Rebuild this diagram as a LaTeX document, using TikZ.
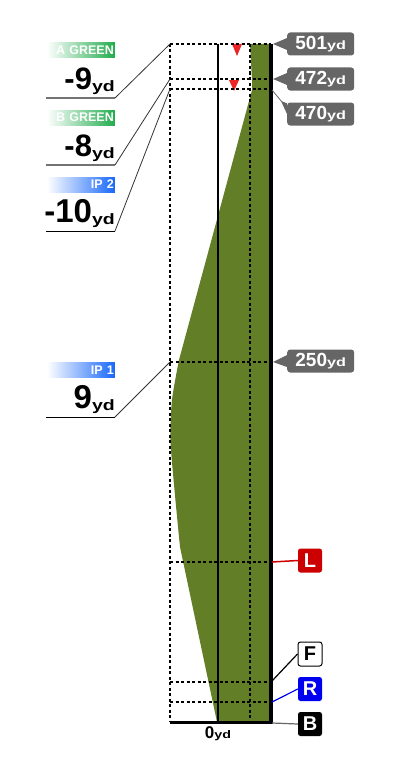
\documentclass[tikz,border=0pt]{standalone}
\usepackage{fontspec}
\setmainfont{Liberation Sans}
\usetikzlibrary{calc, positioning}
\definecolor{fairway}{RGB}{98,126,38}
\definecolor{yardgray}{RGB}{102,102,102}
\definecolor{taggreen}{RGB}{34,172,78}
\definecolor{tagblue}{RGB}{24,104,250}
\definecolor{markred}{RGB}{236,38,38}
\definecolor{lred}{RGB}{204,0,0}
\definecolor{rblue}{RGB}{0,0,240}

\tikzset{
  dotline/.style={line width=1.5pt, dash pattern=on 3pt off 2.5pt},
  leader/.style={line width=0.8pt, black!80},
  tagbox/.style={anchor=east, minimum height=15pt, text width=66pt, inner xsep=1pt, inner ysep=0pt,
    align=right, text=white, font=\fontsize{12.5}{12.5}\selectfont\bfseries},
  greentag/.style={tagbox, left color=white, middle color=taggreen, right color=taggreen},
  bluetag/.style={tagbox, left color=white, right color=tagblue},
  bignum/.style={anchor=base east, inner sep=0pt},
  yardbox/.style={fill=yardgray, rounded corners=3pt, text=white, minimum width=67pt,
    minimum height=23pt, inner sep=0pt, anchor=west},
  lettbox/.style={rounded corners=2.5pt, minimum width=24pt, minimum height=24pt, inner sep=0pt,
    font=\fontsize{20}{20}\selectfont\bfseries},
}
\newcommand{\ydbig}{\raisebox{-2.5pt}{\fontsize{15}{15}\selectfont\bfseries\scalebox{1.3}[1]{yd}}}
\newcommand{\ydsmall}{{\fontsize{12}{12}\selectfont\bfseries\scalebox{1.35}[1]{yd}}}

\begin{document}
\begin{tikzpicture}[x=1pt, y=-1pt]
  \useasboundingbox (0,0) rectangle (400,768);

  % points on the hole
  \coordinate (g501) at (170,44);
  \coordinate (g472) at (170,79);
  \coordinate (g470) at (170,89);
  \coordinate (g250) at (170,362);
  \coordinate (p501) at (273,44);
  \coordinate (p472) at (273,79);
  \coordinate (p470) at (272,90);
  \coordinate (p250) at (273,362);
  \coordinate (pL) at (272,562);
  \coordinate (pF) at (272,681);
  \coordinate (pR) at (272,702);
  \coordinate (pB) at (272,723);

  % fairway
  \fill[fairway] (250,44) -- (271,44) -- (271,722) -- (217,722) -- (180,547)
    -- plot[smooth] coordinates {(180,547) (174.5,490) (170.5,440) (172,400) (179,360)}
    -- (252,90) -- (252,80) -- cycle;

  % pin marks
  \fill[markred] (232,44) -- (242,44) -- (237,56) -- cycle;
  \fill[markred] (229,80) -- (239,80) -- (234,91) -- cycle;

  % grid
  \draw[dotline] (170,44) -- (170,722);
  \draw[dotline] (250,44) -- (250,722);
  \foreach \yy in {44,79,89,362,562,682,702}
    \draw[dotline] (170,\yy) -- (271,\yy);
  \draw[line width=1.8pt] (218,44) -- (218,722);
  \draw[line width=3.2pt] (271,44) -- (271,723.6);
  \draw[line width=3pt] (170,722) -- (272.6,722);

  % left labels
  \node[greentag] (tagA) at (115,50.5) {A GREEN};
  \node[bignum] (valA) at (115,89) {\fontsize{31}{31}\selectfont\bfseries -9\ydbig};
  \coordinate (uA) at (115,98);
  \draw[line width=1.6pt, black!55] (46,98) -- (uA);
  \draw[leader] (uA) -- (g501);

  \node[greentag] (tagB) at (115,117.5) {B GREEN};
  \node[bignum] (valB) at (115,156) {\fontsize{31}{31}\selectfont\bfseries -8\ydbig};
  \coordinate (uB) at (115,165);
  \draw[line width=1.6pt, black!55] (46,165) -- (uB);
  \draw[leader] (uB) -- (g472);

  \node[bluetag] (tagIP2) at (115,184.5) {IP 2};
  \node[bignum] (valIP2) at (115,222) {\fontsize{33}{33}\selectfont\bfseries -10\ydbig};
  \coordinate (uIP2) at (115,231);
  \draw[line width=1pt] (46,231) -- (uIP2);
  \draw[leader] (uIP2) -- (g470);

  \node[bluetag] (tagIP1) at (115,370) {IP 1};
  \node[bignum] (valIP1) at (115,408) {\fontsize{33}{33}\selectfont\bfseries 9\ydbig};
  \coordinate (uIP1) at (115,417);
  \draw[line width=1pt] (46,417) -- (uIP1);
  \draw[leader] (uIP1) -- (g250);

  % yardages
  \node[yardbox] (n501) at (287,44) {\fontsize{19}{19}\selectfont\bfseries 501\ydsmall};
  \node[yardbox] (n472) at (287,79) {\fontsize{19}{19}\selectfont\bfseries 472\ydsmall};
  \node[yardbox] (n470) at (287,114) {\fontsize{19}{19}\selectfont\bfseries 470\ydsmall};
  \node[yardbox] (n250) at (287,361) {\fontsize{19}{19}\selectfont\bfseries 250\ydsmall};
  \fill[yardgray] ([yshift=6pt]n501.west) -- (p501) -- ([yshift=-6pt]n501.west) -- cycle;
  \fill[yardgray] ([yshift=6pt]n472.west) -- (p472) -- ([yshift=-6pt]n472.west) -- cycle;
  \fill[yardgray] ([yshift=-1pt]n470.north west) -- (281,101) -- (n470.west) -- cycle;
  \draw[yardgray, line width=0.8pt] (p470) -- (282,102);
  \fill[yardgray] ([yshift=6pt]n250.west) -- (p250) -- ([yshift=-6pt]n250.west) -- cycle;

  % tee boxes
  \node[lettbox, fill=lred, text=white] (nL) at (310,560.5) {L};
  \node[lettbox, draw=black, line width=1pt, fill=white] (nF) at (310,654) {F};
  \node[lettbox, fill=rblue, text=white] (nR) at (310,689) {R};
  \node[lettbox, fill=black, text=white] (nB) at (310,724) {B};
  \draw[lred, line width=1.5pt] (pL) -- (nL.west);
  \draw[line width=1.2pt] (pF) -- (nF.west);
  \draw[rblue, line width=1.2pt] (pR) -- (nR.west);
  \draw[black!60, line width=1.2pt] (pB) -- (nB.west);

  \node[inner sep=0pt] (zero) at (218,734) {\fontsize{17}{17}\selectfont\bfseries 0{\fontsize{11}{11}\selectfont\bfseries\scalebox{1.3}[1]{yd}}};
\end{tikzpicture}
\end{document}
